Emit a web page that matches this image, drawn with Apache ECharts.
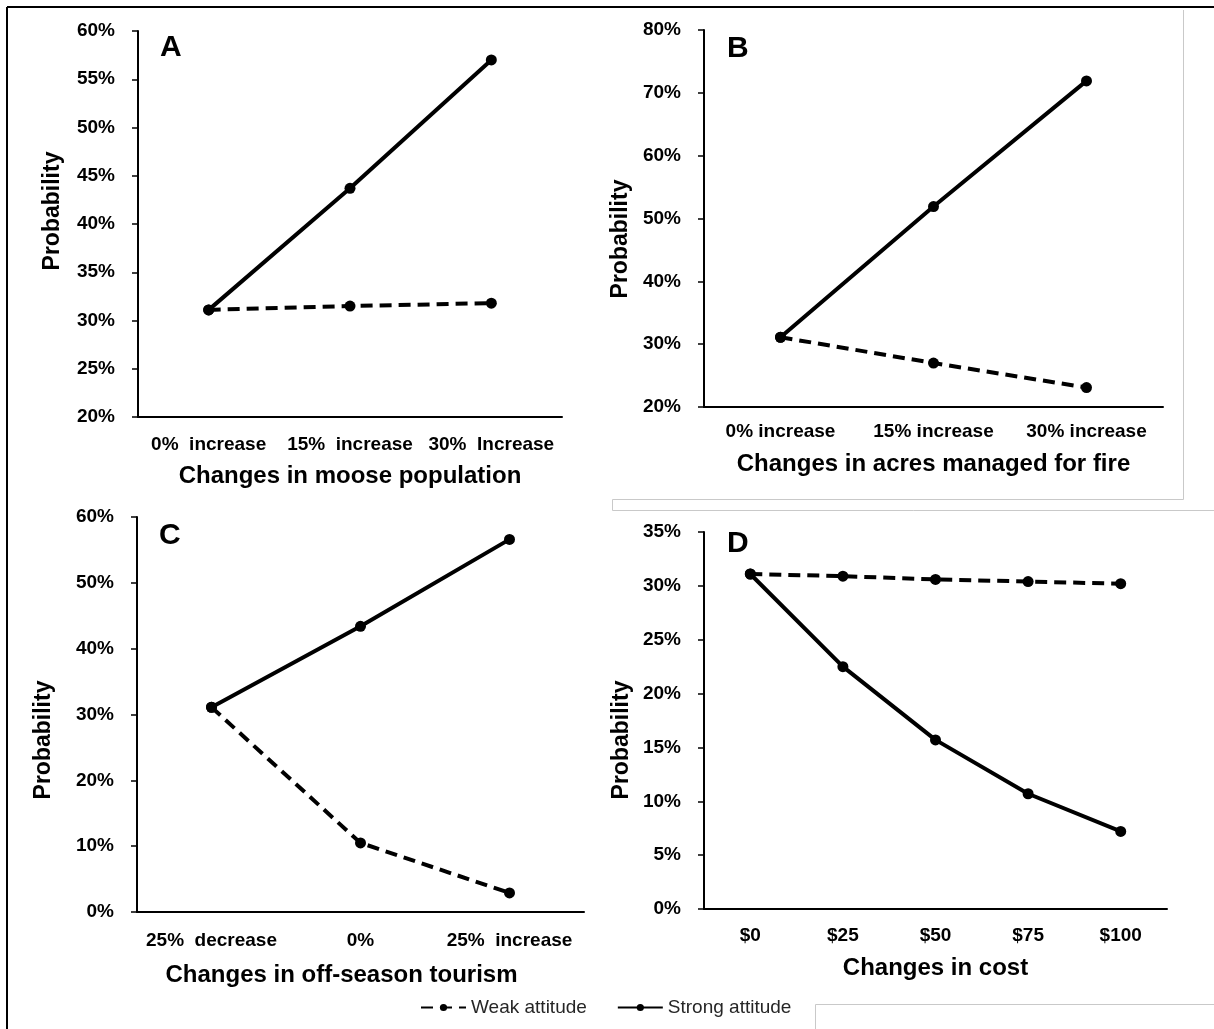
<!DOCTYPE html>
<html><head><meta charset="utf-8">
<script src="https://cdn.jsdelivr.net/npm/echarts@6/dist/echarts.min.js"></script>
<style>html,body{margin:0;padding:0;background:#fff}#chart{width:1214px;height:1029px}</style>
</head><body><div id="chart"></div>
<script>
// ---- data ----
const catsA = ['0%  increase', '15%  increase', '30%  Increase'];
const weakA = [31.1, 31.5, 31.8];
const strongA = [31.1, 43.7, 57.0];

const catsB = ['0% increase', '15% increase', '30% increase'];
const weakB = [31.1, 27.0, 23.1];
const strongB = [31.1, 51.9, 71.9];

const catsC = ['25%  decrease', '0%', '25%  increase'];
const weakC = [31.1, 10.5, 2.9];
const strongC = [31.1, 43.4, 56.6];

const catsD = ['$0', '$25', '$50', '$75', '$100'];
const weakD = [31.1, 30.9, 30.6, 30.4, 30.2];
const strongD = [31.1, 22.5, 15.7, 10.7, 7.2];

const panelLetters = ['A', 'B', 'C', 'D'];
const xTitles = ['Changes in moose population', 'Changes in acres managed for fire',
                 'Changes in off-season tourism', 'Changes in cost'];
const yTitle = 'Probability';
const seriesNames = ['Weak attitude', 'Strong attitude'];

// ---- layout ----
const FONT = '"Liberation Sans", Arial, Helvetica, sans-serif';
const panels = [
  { cats: catsA, weak: weakA, strong: strongA, min: 20, max: 60, interval: 5,
    grid: { left: 138, top: 31, width: 424, height: 386 }, labelMargin: 18, nameGap: 47, nameShift: 0,
    letterPos: [160, 32.5], yTitlePos: [53, 211] },
  { cats: catsB, weak: weakB, strong: strongB, min: 20, max: 80, interval: 10,
    grid: { left: 704, top: 30, width: 459, height: 377 }, labelMargin: 15, nameGap: 45, nameShift: 0,
    letterPos: [727, 33.5], yTitlePos: [621, 239] },
  { cats: catsC, weak: weakC, strong: strongC, min: 0, max: 60, interval: 10,
    grid: { left: 137, top: 517, width: 447, height: 395 }, labelMargin: 19, nameGap: 51, nameShift: -19,
    letterPos: [159, 520.5], yTitlePos: [44, 740] },
  { cats: catsD, weak: weakD, strong: strongD, min: 0, max: 35, interval: 5,
    grid: { left: 704, top: 532, width: 463, height: 377 }, labelMargin: 17, nameGap: 47, nameShift: 0,
    letterPos: [727, 528.5], yTitlePos: [622, 740] }
];

const grids = [], xAxes = [], yAxes = [], series = [], graphics = [];
panels.forEach((p, i) => {
  grids.push(Object.assign({ containLabel: false, outerBoundsMode: 'none' }, p.grid));
  xAxes.push({
    type: 'category', gridIndex: i, data: p.cats, boundaryGap: true,
    axisLine: { show: true, lineStyle: { color: '#000', width: 2 } },
    axisTick: { show: false },
    axisLabel: { interval: 0, margin: p.labelMargin, color: '#000', fontFamily: FONT, fontWeight: 'bold', fontSize: 19 },
    splitLine: { show: false },
    name: xTitles[i], nameLocation: 'middle', nameGap: p.nameGap,
    nameTextStyle: {
      color: '#000', fontFamily: FONT, fontWeight: 'bold', fontSize: 24,
      padding: p.nameShift < 0 ? [0, -2 * p.nameShift, 0, 0] : 0
    }
  });
  yAxes.push({
    type: 'value', gridIndex: i, min: p.min, max: p.max, interval: p.interval,
    axisLine: { show: true, lineStyle: { color: '#000', width: 2 } },
    axisTick: { show: true, inside: false, length: 6, lineStyle: { color: '#000', width: 1.5 } },
    axisLabel: { margin: 23, color: '#000', fontFamily: FONT, fontWeight: 'bold', fontSize: 19, formatter: '{value}%' },
    splitLine: { show: false }
  });
  series.push({
    name: seriesNames[0], type: 'line', xAxisIndex: i, yAxisIndex: i, data: p.weak,
    symbol: 'circle', symbolSize: 11, showSymbol: true,
    lineStyle: { color: '#000', width: 4, type: [12, 7] },
    itemStyle: { color: '#000' }, z: 2, emphasis: { disabled: true }
  });
  series.push({
    name: seriesNames[1], type: 'line', xAxisIndex: i, yAxisIndex: i, data: p.strong,
    symbol: 'circle', symbolSize: 11, showSymbol: true,
    lineStyle: { color: '#000', width: 4, type: 'solid' },
    itemStyle: { color: '#000' }, z: 3, emphasis: { disabled: true }
  });
  graphics.push({
    type: 'text', x: p.letterPos[0], y: p.letterPos[1], z: 10,
    style: { text: panelLetters[i], fill: '#000', font: 'bold 30px ' + FONT, textAlign: 'left', textVerticalAlign: 'top' }
  });
  graphics.push({
    type: 'text', x: p.yTitlePos[0], y: p.yTitlePos[1], rotation: Math.PI / 2, z: 10,
    style: { text: yTitle, fill: '#000', font: 'bold 23px ' + FONT, textAlign: 'center', textVerticalAlign: 'middle' }
  });
});

// frame lines
const black = { stroke: '#000', lineWidth: 2 };
const grey = { stroke: '#c9c9c9', lineWidth: 1 };
[
  [[7, 7], [1214, 7], black], [[7, 7], [7, 1029], black],
  [[1183.5, 10], [1183.5, 499.5], grey], [[612.5, 499.5], [1183.5, 499.5], grey],
  [[612.5, 499.5], [612.5, 510.5], grey], [[612.5, 510.5], [1214, 510.5], grey],
  [[815.5, 1004.5], [1214, 1004.5], grey], [[815.5, 1004.5], [815.5, 1029], grey]
].forEach(l => graphics.push({
  type: 'line', z: 0, silent: true,
  shape: { x1: l[0][0], y1: l[0][1], x2: l[1][0], y2: l[1][1] }, style: l[2]
}));

const chart = echarts.init(document.getElementById('chart'), null, { renderer: 'canvas' });
chart.setOption({
  animation: false,
  backgroundColor: '#fff',
  grid: grids, xAxis: xAxes, yAxis: yAxes, series: series,
  legend: {
    data: seriesNames, left: 420, top: 998, padding: 0,
    itemWidth: 45, itemHeight: 9, itemGap: 30,
    textStyle: { fontFamily: FONT, fontSize: 19, color: '#262626' },
    selectedMode: false
  },
  graphic: graphics
});
</script></body></html>
